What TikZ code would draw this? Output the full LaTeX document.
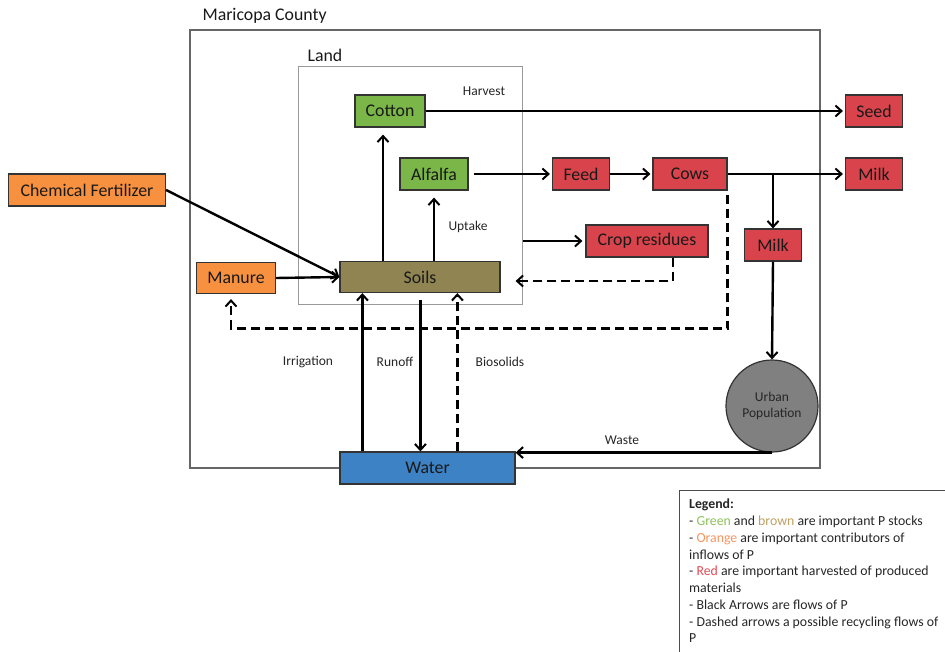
\documentclass[tikz,border=0pt]{standalone}
\usepackage{fontspec}
\setmainfont{Carlito}
\usepackage{xcolor}
\usetikzlibrary{positioning,calc,arrows.meta}

\definecolor{stockgreen}{HTML}{7AB648}
\definecolor{soilbrown}{HTML}{8F8452}
\definecolor{inorange}{HTML}{F7913F}
\definecolor{outred}{HTML}{D9434B}
\definecolor{waterblue}{HTML}{3C82C4}
\definecolor{popgray}{HTML}{808080}
\definecolor{legendgreen}{HTML}{8DBF5A}
\definecolor{legendbrown}{HTML}{BFA062}
\definecolor{legendorange}{HTML}{F7955E}
\definecolor{legendred}{HTML}{DE4B55}

\begin{document}
\begin{tikzpicture}[x=1pt, y=-1pt,
    box/.style={draw=black!80, line width=1.2pt, inner sep=0pt, minimum height=32pt, text=black!90, font=\fontsize{17.8}{20}\selectfont},
    stock/.style={box, fill=stockgreen},
    soil/.style={box, fill=soilbrown},
    inflow/.style={box, fill=inorange},
    product/.style={box, fill=outred},
    flow/.style={line width=2.4pt, -{Straight Barb[length=6pt,width=11pt,line width=2pt]}},
    recycle/.style={flow, dash pattern=on 9pt off 5pt},
    flowlabel/.style={font=\fontsize{13.5}{16}\selectfont, text=black!85},
    title/.style={anchor=west, font=\fontsize{17.8}{20}\selectfont, text=black!90}
]
    \clip (0,0) rectangle (945,652);

    % Boundaries
    \node[draw=black!60, line width=1.5pt, minimum width=630pt, minimum height=438pt] (county) at (505,249) {};
    \node[title] (countylabel) at (199,16) {Maricopa County};
    \node[draw=black!40, line width=1pt, minimum width=224pt, minimum height=238pt] (land) at (410,186) {};
    \node[title] (landlabel) at (304,55) {Land};

    % Stocks
    \node[stock, minimum width=70pt] (Cotton) at (390,111) {Cotton};
    \node[stock, minimum width=68pt] (Alfalfa) at (434,174) {Alfalfa};
    \node[soil, minimum width=160pt, minimum height=31pt] (Soils) at (420,277) {Soils};

    % Inflows
    \node[inflow, minimum width=79pt, minimum height=31pt] (Manure) at (236,278) {Manure};
    \node[inflow, minimum width=157pt] (Fertilizer) at (87,190) {Chemical Fertilizer};

    % Products
    \node[product, minimum width=57pt] (Seed) at (874,111) {Seed};
    \node[product, minimum width=57pt] (Feed) at (581,174) {Feed};
    \node[product, minimum width=74pt] (Cows) at (690,174) {Cows};
    \node[product, minimum width=57pt] (MilkOut) at (874,174) {Milk};
    \node[product, minimum width=122pt] (Residues) at (647,241) {Crop residues};
    \node[product, minimum width=57pt] (MilkCity) at (773,245) {Milk};

    % Water and city
    \node[box, fill=waterblue, minimum width=175pt] (Water) at (427.5,468) {Water};
    \node[draw=black!80, line width=1.2pt, circle, fill=popgray, minimum size=92pt, inner sep=0pt, align=center, text=black!85,
          font=\fontsize{13.5}{16}\selectfont] (Urban) at (772,406) {Urban\\Population};

    % Flows of P
    \draw[flow, shorten >=7pt] ([xshift=-7pt]Cotton.south |- Soils.north) -- ([xshift=-7pt]Cotton.south);
    \draw[flow, shorten >=7pt] (Alfalfa.south |- Soils.north) -- (Alfalfa.south);
    \draw[flow, shorten >=2pt] (Cotton.east) -- (Seed.west);
    \draw[flow, shorten >=2pt] ([xshift=5pt]Alfalfa.east) -- (Feed.west);
    \draw[flow, shorten >=2pt] (Feed.east) -- (Cows.west);
    \draw[flow, shorten >=2pt] (Cows.east) -- (MilkOut.west);
    \draw[flow] (Cows.east -| MilkCity.north) -- (MilkCity.north);
    \draw[flow] (MilkCity.south) -- (Urban.north);
    \draw[flow, shorten >=3pt] (land.east |- Residues.west) -- (Residues.west);
    \draw[flow] (Manure.east) -- (Soils.west);
    \draw[flow] (Fertilizer.east) -- (Soils.west);
    \draw[flow] ([xshift=23pt]Water.north west) -- ([xshift=23pt]Soils.south west);
    \draw[flow] ([xshift=81pt,yshift=-7pt]Soils.south west) -- ([xshift=81pt]Water.north west);
    \draw[flow] (Urban.south) -- (Urban.south -| Water.east);

    % Possible recycling
    \draw[recycle] ([xshift=118pt]Water.north west) -- ([xshift=118pt]Soils.south west);
    \draw[recycle] ([xshift=26pt]Residues.south) |- ([xshift=15pt,yshift=-4pt]Soils.east);
    \draw[recycle] ([yshift=-4pt]Cows.south east) -- ++(0,134) -| ([xshift=-5pt,yshift=-5pt]Manure.south);

    % Flow labels
    \node[flowlabel] (harvest) at (484,91) {Harvest};
    \node[flowlabel] (uptake) at (468,227) {Uptake};
    \node[flowlabel] (irrigation) at (308,362) {Irrigation};
    \node[flowlabel] (runoff) at (395,362) {Runoff};
    \node[flowlabel] (biosolids) at (500,362) {Biosolids};
    \node[flowlabel] (waste) at (622,440) {Waste};

    % Legend
    \node[draw=black!70, line width=1.3pt, anchor=north west, minimum width=290pt, minimum height=190pt] (legendbox) at (679,490) {};
    \node[anchor=north west, inner sep=0pt, align=left, text=black!85, font=\fontsize{13.8}{16.75}\selectfont] (legend) at (689,499) {%
        \textbf{Legend:}\\
        - \textcolor{legendgreen}{Green} and \textcolor{legendbrown}{brown} are important P stocks\\
        - \textcolor{legendorange}{Orange} are important contributors of\\
        inflows of P\\
        - \textcolor{legendred}{Red} are important harvested of produced\\
        materials\\
        - Black Arrows are flows of P\\
        - Dashed arrows a possible recycling flows of\\
        P};
\end{tikzpicture}
\end{document}
